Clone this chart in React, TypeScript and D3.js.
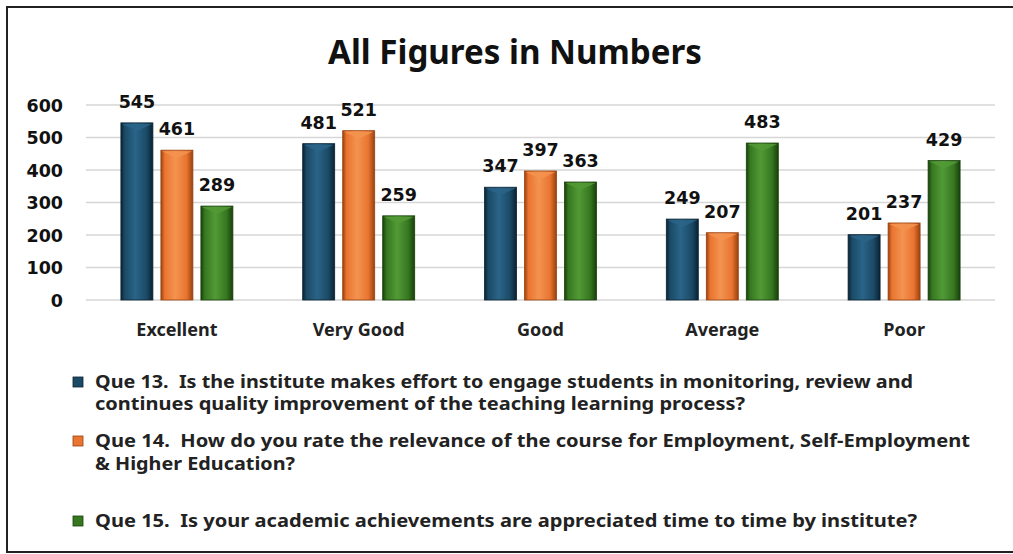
import React from "react";
import * as d3 from "d3";

const categories = ["Excellent", "Very Good", "Good", "Average", "Poor"];
const seriesNames = ["Que 13", "Que 14", "Que 15"];
const q13 = [545, 481, 347, 249, 201];
const q14 = [461, 521, 397, 207, 237];
const q15 = [289, 259, 363, 483, 429];
const yTicks = [0, 100, 200, 300, 400, 500, 600];
const titleText = "All Figures in Numbers";
const legendLines = [
  ["Que 13.\u00a0\u00a0Is the institute makes effort to engage students in monitoring, review and", "continues quality improvement of the teaching learning process?"],
  ["Que 14.\u00a0\u00a0How do you rate the relevance of the course for Employment, Self-Employment", "& Higher Education?"],
  ["Que 15.\u00a0\u00a0Is your academic achievements are appreciated time to time by institute?"],
];

const colors = [
  { base: "#1b4a66", light: "#2a6488", dark: "#0a2232" },
  { base: "#ea7430", light: "#f39350", dark: "#984210" },
  { base: "#367720", light: "#529a36", dark: "#18400b" },
];

const W = 1013;
const H = 554;

export default function App() {
  const series = [q13, q14, q15];
  const x0 = d3.scaleBand<string>().domain(categories).range([86, 995]).padding(0);
  const x1 = d3.scaleBand<string>().domain(seriesNames).range([-56, 56]).paddingInner(0.2).paddingOuter(0);
  const y = d3.scaleLinear().domain([0, 600]).range([300, 105]);
  const numFont = "'DejaVu Sans', Verdana, sans-serif";
  const txtFont = "'Noto Sans', 'Open Sans', sans-serif";
  const legendWidths = [[818, 650], [875, 200], [822]];
  const legendY = [[388, 410], [447, 470], [527]];

  return (
    <svg width={W} height={H} style={{ position: "absolute", left: 0, top: 0, background: "#fff" }}>
      <defs>
        {colors.map((c, i) => (
          <linearGradient key={i} id={`g${i}`} x1="0" x2="1" y1="0" y2="0">
            <stop offset="0" stopColor={c.dark} />
            <stop offset="0.12" stopColor={c.base} />
            <stop offset="0.45" stopColor={c.light} />
            <stop offset="0.8" stopColor={c.base} />
            <stop offset="1" stopColor={c.dark} />
          </linearGradient>
        ))}
      </defs>
      <rect x={7} y={7} width={W + 10} height={545} fill="#fff" stroke="#222" strokeWidth={2} />
      <text x={515} y={64} textAnchor="middle" fontFamily={txtFont} fontWeight={700} fontSize={34}
        textLength={374} lengthAdjust="spacingAndGlyphs" fill="#111">{titleText}</text>
      {yTicks.map((t) => (
        <g key={t}>
          <line x1={86} x2={995} y1={y(t)} y2={y(t)} stroke="#d6d6d6" strokeWidth={1.5} />
          <text x={63} y={y(t) + 6.5} textAnchor="end" fontFamily={numFont} fontWeight={700} fontSize={17.5} fill="#111">{t}</text>
        </g>
      ))}
      {categories.map((cat, ci) => {
        const cx = (x0(cat) as number) + x0.bandwidth() / 2;
        return (
          <g key={cat}>
            {series.map((vals, si) => {
              const bx = cx + (x1(seriesNames[si]) as number);
              const bw = x1.bandwidth();
              const top = y(vals[ci]);
              const c = colors[si];
              return (
                <g key={si}>
                  <rect x={bx} y={top} width={bw} height={y(0) - top} fill={`url(#g${si})`} stroke={c.dark} strokeWidth={0.8} />
                  <path d={`M${bx + 1},${top + 1} L${bx + bw - 1},${top + 1} L${bx + bw / 2},${top + 8} Z`} fill={c.light} opacity={0.85} />
                  <text x={bx + bw / 2} y={top - 15} textAnchor="middle" fontFamily={numFont} fontWeight={700} fontSize={17.5} fill="#111">{vals[ci]}</text>
                </g>
              );
            })}
            <text x={cx} y={336} textAnchor="middle" fontFamily={txtFont} fontWeight={700} fontSize={18} fill="#222">{cat}</text>
          </g>
        );
      })}
      {legendLines.map((lines, li) => (
        <g key={li}>
          <rect x={73} y={legendY[li][0] - 11} width={10} height={10} fill={colors[li].base} stroke={colors[li].dark} strokeWidth={0.8} />
          {lines.map((ln, k) => (
            <text key={k} x={95} y={legendY[li][k]} fontFamily={txtFont} fontWeight={700} fontSize={17.5}
              textLength={legendWidths[li][k]} lengthAdjust="spacingAndGlyphs" fill="#222">{ln}</text>
          ))}
        </g>
      ))}
    </svg>
  );
}
